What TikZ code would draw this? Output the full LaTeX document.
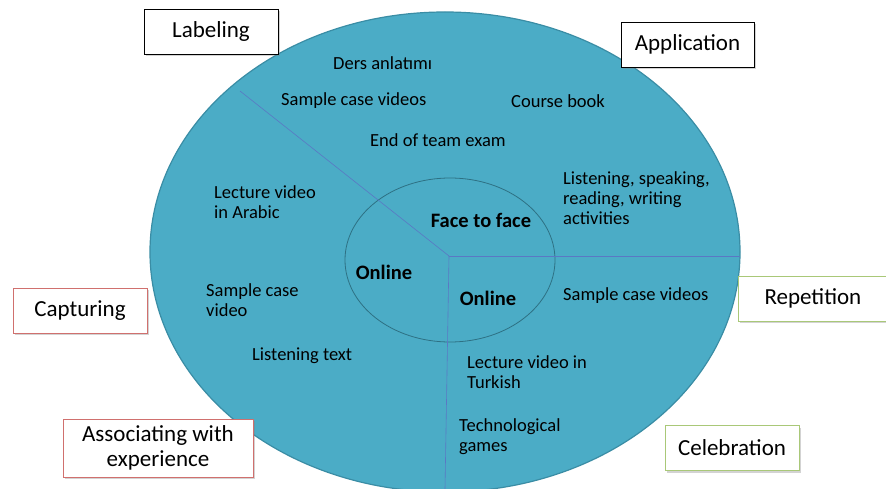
\documentclass[tikz,border=0pt]{standalone}
\usepackage{fontspec}
\setmainfont{Carlito}
\usetikzlibrary{shadows}

\definecolor{disc}{HTML}{4BACC6}
\definecolor{discedge}{HTML}{3A8DA5}
\definecolor{spoke}{HTML}{5A78C4}
\definecolor{redline}{HTML}{D0706E}
\definecolor{greenline}{HTML}{A9C878}

\tikzset{
    stagebox/.style={draw, fill=white, line width=0.9pt, minimum height=45pt, align=center,
        inner sep=2pt, font=\fontsize{23}{25}\selectfont,
        drop shadow={shadow xshift=1.5pt, shadow yshift=-2pt, opacity=0.35}},
    item/.style={anchor=west, align=left, inner sep=0pt, font=\fontsize{18.5}{20}\selectfont},
    mode/.style={inner sep=0pt, font=\fontsize{20.5}{22}\selectfont\bfseries}
}

\begin{document}
\begin{tikzpicture}[x=1pt, y=-1pt]
    \clip (0, 0) rectangle (886, 489);
    \useasboundingbox (0, 0) rectangle (886, 489);
    
    % the disc
    \draw[discedge, line width=1.2pt, fill=disc] (445, 252) ellipse [x radius=295, y radius=240];
    \draw[discedge!80!black, line width=0.8pt, fill=disc] (450, 260) ellipse [x radius=105, y radius=82];
    
    \coordinate (hub) at (449, 256);
    \coordinate (upleft) at (240, 91);
    \coordinate (right) at (740, 256);
    \coordinate (down) at (445, 489);
    \draw[spoke, line width=0.6pt] (hub) -- (upleft);
    \draw[spoke, line width=0.6pt] (hub) -- (right);
    \draw[spoke, line width=0.6pt] (hub) -- (down);
    
    % inner labels
    \node[mode] (ftf) at (481, 220) {Face to face};
    \node[mode] (onleft) at (384, 272) {Online};
    \node[mode] (onright) at (488, 298) {Online};
    
    % upper sector
    \node[item] (ders) at (333, 63) {Ders anlatımı};
    \node[item] (casetop) at (281, 101) {Sample case videos};
    \node[item] (book) at (511, 101) {Course book};
    \node[item] (exam) at (370, 140) {End of team exam};
    \node[item] (skills) at (563, 198) {Listening, speaking,\\reading, writing\\activities};
    
    % left sector
    \node[item] (arabic) at (214, 202) {Lecture video\\in Arabic};
    \node[item] (caseleft) at (206, 300) {Sample case\\video};
    \node[item] (listen) at (252, 356) {Listening text};
    
    % lower right sector
    \node[item] (caseright) at (563, 296) {Sample case videos};
    \node[item] (turkish) at (467, 372) {Lecture video in\\Turkish};
    \node[item] (games) at (459, 437) {Technological\\games};
    
    % stages
    \node[stagebox, draw=black, minimum width=134pt] (labeling) at (211, 31.5) {Labeling};
    \node[stagebox, draw=black, minimum width=133pt] (application) at (687.5, 44.5) {Application};
    \node[stagebox, draw=redline, minimum width=134pt] (capturing) at (80, 310.5) {Capturing};
    \node[stagebox, draw=redline, minimum width=190pt, minimum height=58pt] (associating) at (158, 448) {Associating with\\experience};
    \node[stagebox, draw=greenline, minimum width=153pt, text width=125pt, align=left] (repetition) at (815, 298.5) {\hspace*{12pt}Repetition};
    \node[stagebox, draw=greenline, minimum width=134pt] (celebration) at (732, 448) {Celebration};
\end{tikzpicture}
\end{document}
